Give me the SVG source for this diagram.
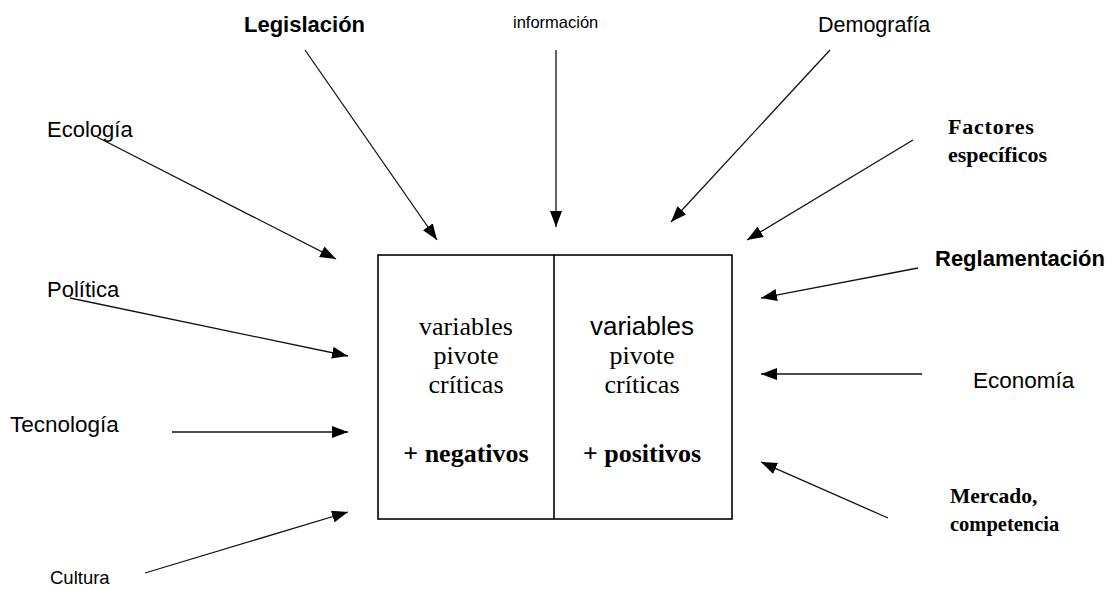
<svg xmlns="http://www.w3.org/2000/svg" width="1119" height="590" viewBox="0 0 1119 590">
  <defs>
    <marker id="head" markerUnits="userSpaceOnUse" markerWidth="16" markerHeight="12" refX="16" refY="6" orient="auto">
      <path d="M0,0 L16,6 L0,12 Z" fill="#000"/>
    </marker>
    <style>
      .sans { font-family: "Liberation Sans", Arial, sans-serif; fill: #000; }
      .serif { font-family: "Liberation Serif", "Times New Roman", serif; fill: #000; }
      .b { font-weight: bold; }
      .arrow { stroke: #111; stroke-width: 1.3; fill: none; marker-end: url(#head); }
      .box { fill: #fff; stroke: #000; stroke-width: 1.6; }
    </style>
  </defs>
  <rect width="1119" height="590" fill="#fff"/>

  <!-- central box split into negative and positive halves -->
  <g id="center">
    <rect class="box" x="378" y="255" width="354" height="264"/>
    <line x1="554" y1="255" x2="554" y2="519" stroke="#000" stroke-width="1.6"/>
    <g class="serif" font-size="26" text-anchor="middle">
      <text x="466" y="335">variables</text>
      <text x="466" y="364">pivote</text>
      <text x="466" y="393">críticas</text>
      <text x="466" y="462" class="b">+ negativos</text>
    </g>
    <text x="642" y="335" class="sans" font-size="26" text-anchor="middle">variables</text>
    <g class="serif" font-size="26" text-anchor="middle">
      <text x="642" y="364">pivote</text>
      <text x="642" y="393">críticas</text>
      <text x="642" y="462" class="b">+ positivos</text>
    </g>
  </g>

  <!-- surrounding factors -->
  <g id="legislacion"><text class="sans b" x="244" y="32" font-size="22">Legislación</text></g>
  <g id="informacion"><text class="sans" x="513" y="28" font-size="16.5">información</text></g>
  <g id="demografia"><text class="sans" x="818" y="32" font-size="21.5">Demografía</text></g>
  <g id="ecologia"><text class="sans" x="47" y="137" font-size="22">Ecología</text></g>
  <g id="factores">
    <text class="serif b" x="948" y="134" font-size="22" letter-spacing="0.8">Factores</text>
    <text class="serif b" x="948" y="162" font-size="22">específicos</text>
  </g>
  <g id="politica"><text class="sans" x="47" y="297" font-size="22">Política</text></g>
  <g id="reglamentacion"><text class="sans b" x="935" y="266" font-size="22">Reglamentación</text></g>
  <g id="tecnologia"><text class="sans" x="10" y="432" font-size="22.5">Tecnología</text></g>
  <g id="economia"><text class="sans" x="973" y="388" font-size="22.5">Economía</text></g>
  <g id="mercado">
    <text class="serif b" x="950" y="503" font-size="21.5">Mercado,</text>
    <text class="serif b" x="950" y="531" font-size="20.5">competencia</text>
  </g>
  <g id="cultura"><text class="sans" x="50" y="584" font-size="18.5">Cultura</text></g>

  <!-- connectors pointing at the box -->
  <g id="connectors">
    <line class="arrow" x1="305" y1="50" x2="437" y2="240"/>
    <line class="arrow" x1="556" y1="50" x2="556" y2="227"/>
    <line class="arrow" x1="830" y1="50" x2="671" y2="222"/>
    <line class="arrow" x1="913" y1="140" x2="747" y2="240"/>
    <line class="arrow" x1="97" y1="137" x2="336" y2="259"/>
    <line class="arrow" x1="70" y1="298" x2="348" y2="356"/>
    <line class="arrow" x1="172" y1="432" x2="348" y2="432"/>
    <line class="arrow" x1="145" y1="573" x2="348" y2="512"/>
    <line class="arrow" x1="918" y1="268" x2="761" y2="298"/>
    <line class="arrow" x1="922" y1="374" x2="761" y2="374"/>
    <line class="arrow" x1="888" y1="518" x2="761" y2="462"/>
  </g>
</svg>
